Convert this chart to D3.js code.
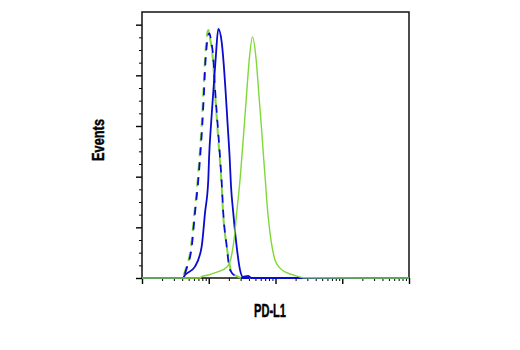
<!DOCTYPE html>
<html>
<head>
<meta charset="utf-8">
<script src="https://cdn.jsdelivr.net/npm/d3@7"></script>
<style>
  body { margin: 0; background: #fff; }
  text { font-family: "Liberation Sans", Arial, sans-serif; font-weight: bold; fill: #000; stroke: #000; stroke-width: 0.45; }
</style>
</head>
<body>
<svg></svg>
<script>
// fluorescence intensity (log axis) and event counts for each histogram
let blueSolidX = [1, 4.07, 4.41, 6.22, 7.83, 8.79, 9.84, 10.1, 10.8, 11.7, 12.7, 13.9, 15.6, 16.5, 17.9, 19.2, 20.6, 21.5, 23.3, 26.2, 29.4, 32.6, 38.7, 43.7, 10000]
let blueSolidY = [0, 0, 1.2, 4.5, 12.4, 25.7, 38.7, 47.2, 60.4, 73.5, 86.7, 98.3, 93.3, 86.7, 73.5, 60.4, 47.2, 36.7, 25.7, 12.4, 3.2, 0.4, 0.8, 0, 0]

let blueDashX = [1, 3.84, 4.16, 4.68, 5.56, 6.22, 6.97, 7.40, 8.00, 8.49, 8.99, 10.2, 10.8, 11.7, 12.5, 13.6, 14.8, 15.6, 16.5, 18.6, 19.6, 20.8, 26.2, 31.2, 10000]
let blueDashY = [0, 0, 0.5, 3.9, 12.4, 25.7, 38.7, 47.2, 60.4, 73.5, 86.7, 96.7, 93.9, 86.7, 73.5, 60.4, 47.2, 38, 25.7, 12.4, 7.1, 3.2, 0.5, 0, 0]

let greenDashX = [1, 3.76, 4.07, 4.57, 5.43, 6.10, 6.84, 7.24, 7.85, 8.32, 8.81, 9.84, 10.6, 11.5, 12.4, 13.4, 14.6, 15.5, 16.4, 18.6, 20.0, 21.4, 27.5, 33.1, 10000]
let greenDashY = [0, 0, 0.5, 3.9, 12.4, 25.7, 38.7, 47.2, 60.4, 73.5, 86.7, 97.9, 93.9, 86.7, 73.5, 60.4, 47.2, 38, 25.7, 12.4, 7.1, 3.2, 0.5, 0, 0]

let greenSolidX = [1, 7.40, 7.83, 9.84, 13.9, 18.6, 20.8, 24.2, 26.2, 29.4, 31.2, 34.1, 37.1, 40.6, 45.2, 51.1, 56.0, 61.2, 66.5, 71.3, 73.8, 82.8, 98.4, 117, 147, 185, 261, 10000]
let greenSolidY = [0, 0, 0.5, 1.2, 2.5, 4.2, 6.4, 16.3, 25.7, 38.7, 47.2, 60.4, 73.5, 86.7, 95.2, 86.7, 73.5, 60.4, 47.2, 36.7, 30.8, 17.8, 7.1, 3.9, 2.1, 1.2, 0.1, 0]

let xDomain = [1, 10000]
let yDomain = [0, 105]
let yMajorTicks = [0, 20, 40, 60, 80, 100]
let yMinorTicks = [5, 10, 15, 25, 30, 35, 45, 50, 55, 65, 70, 75, 85, 90, 95]

let xLabel = 'PD-L1'
let yLabel = 'Events'

let width = 520
let height = 350
let plotLeft = 142, plotRight = 409, plotTop = 12, plotBottom = 278

let svg = d3.select('svg')
    .attr('width', width)
    .attr('height', height)

let x = d3.scaleLog()
          .domain(xDomain)
          .range([plotLeft, plotRight])

let y = d3.scaleLinear()
          .domain(yDomain)
          .range([plotBottom, plotTop])

let xMajor = d3.range(0, 5).map(p => Math.pow(10, p))
let xMinor = d3.range(0, 4).flatMap(p => d3.range(2, 10).map(m => m * Math.pow(10, p)))

// ticks
svg.append('g')
    .attr('transform', `translate(0, ${plotBottom})`)
    .call(d3.axisBottom(x).tickValues(xMajor).tickSize(6).tickFormat(''))
    .call(g => g.select('.domain').remove())
    .selectAll('line').attr('stroke-width', 1.4)

svg.append('g')
    .attr('transform', `translate(0, ${plotBottom})`)
    .call(d3.axisBottom(x).tickValues(xMinor).tickSize(3).tickFormat(''))
    .call(g => g.select('.domain').remove())

svg.append('g')
    .attr('transform', `translate(${plotLeft}, 0)`)
    .call(d3.axisLeft(y).tickValues(yMajorTicks).tickSize(6).tickFormat(''))
    .call(g => g.select('.domain').remove())
    .selectAll('line').attr('stroke-width', 1.4)

svg.append('g')
    .attr('transform', `translate(${plotLeft}, 0)`)
    .call(d3.axisLeft(y).tickValues(yMinorTicks).tickSize(3).tickFormat(''))
    .call(g => g.select('.domain').remove())

// frame
svg.append('rect')
    .attr('x', plotLeft)
    .attr('y', plotTop)
    .attr('width', plotRight - plotLeft)
    .attr('height', plotBottom - plotTop)
    .attr('fill', 'none')
    .attr('stroke', '#111')
    .attr('stroke-width', 1.5)

let line = d3.line()
              .x(d => x(d[0]))
              .y(d => y(d[1]))
              .curve(d3.curveMonotoneX)

let series = [
  { xs: greenDashX, ys: greenDashY, color: '#7fd83a', width: 2, dash: '9,6', offset: 2 },
  { xs: blueDashX, ys: blueDashY, color: '#0b0bcc', width: 1.8, dash: '8,7', offset: 0 },
  { xs: blueSolidX, ys: blueSolidY, color: '#0b0bcc', width: 1.8, dash: null, offset: 0 },
  { xs: greenSolidX, ys: greenSolidY, color: '#7fd83a', width: 1.4, dash: null, offset: 0 }
]

svg.append('g')
    .selectAll('path')
    .data(series)
    .enter()
    .append('path')
      .attr('d', s => line(s.xs.map((v, i) => [v, s.ys[i]])))
      .attr('fill', 'none')
      .attr('stroke', s => s.color)
      .attr('stroke-width', s => s.width)
      .attr('stroke-dasharray', s => s.dash)
      .attr('stroke-dashoffset', s => s.offset)

svg.append('text')
    .attr('x', 270)
    .attr('y', 317)
    .attr('text-anchor', 'middle')
    .attr('font-size', 18)
    .attr('textLength', 32)
    .attr('lengthAdjust', 'spacingAndGlyphs')
    .text(xLabel)

svg.append('text')
    .attr('transform', 'translate(104, 140) rotate(-90)')
    .attr('text-anchor', 'middle')
    .attr('font-size', 17)
    .attr('textLength', 42)
    .attr('lengthAdjust', 'spacingAndGlyphs')
    .text(yLabel)
</script>
</body>
</html>
